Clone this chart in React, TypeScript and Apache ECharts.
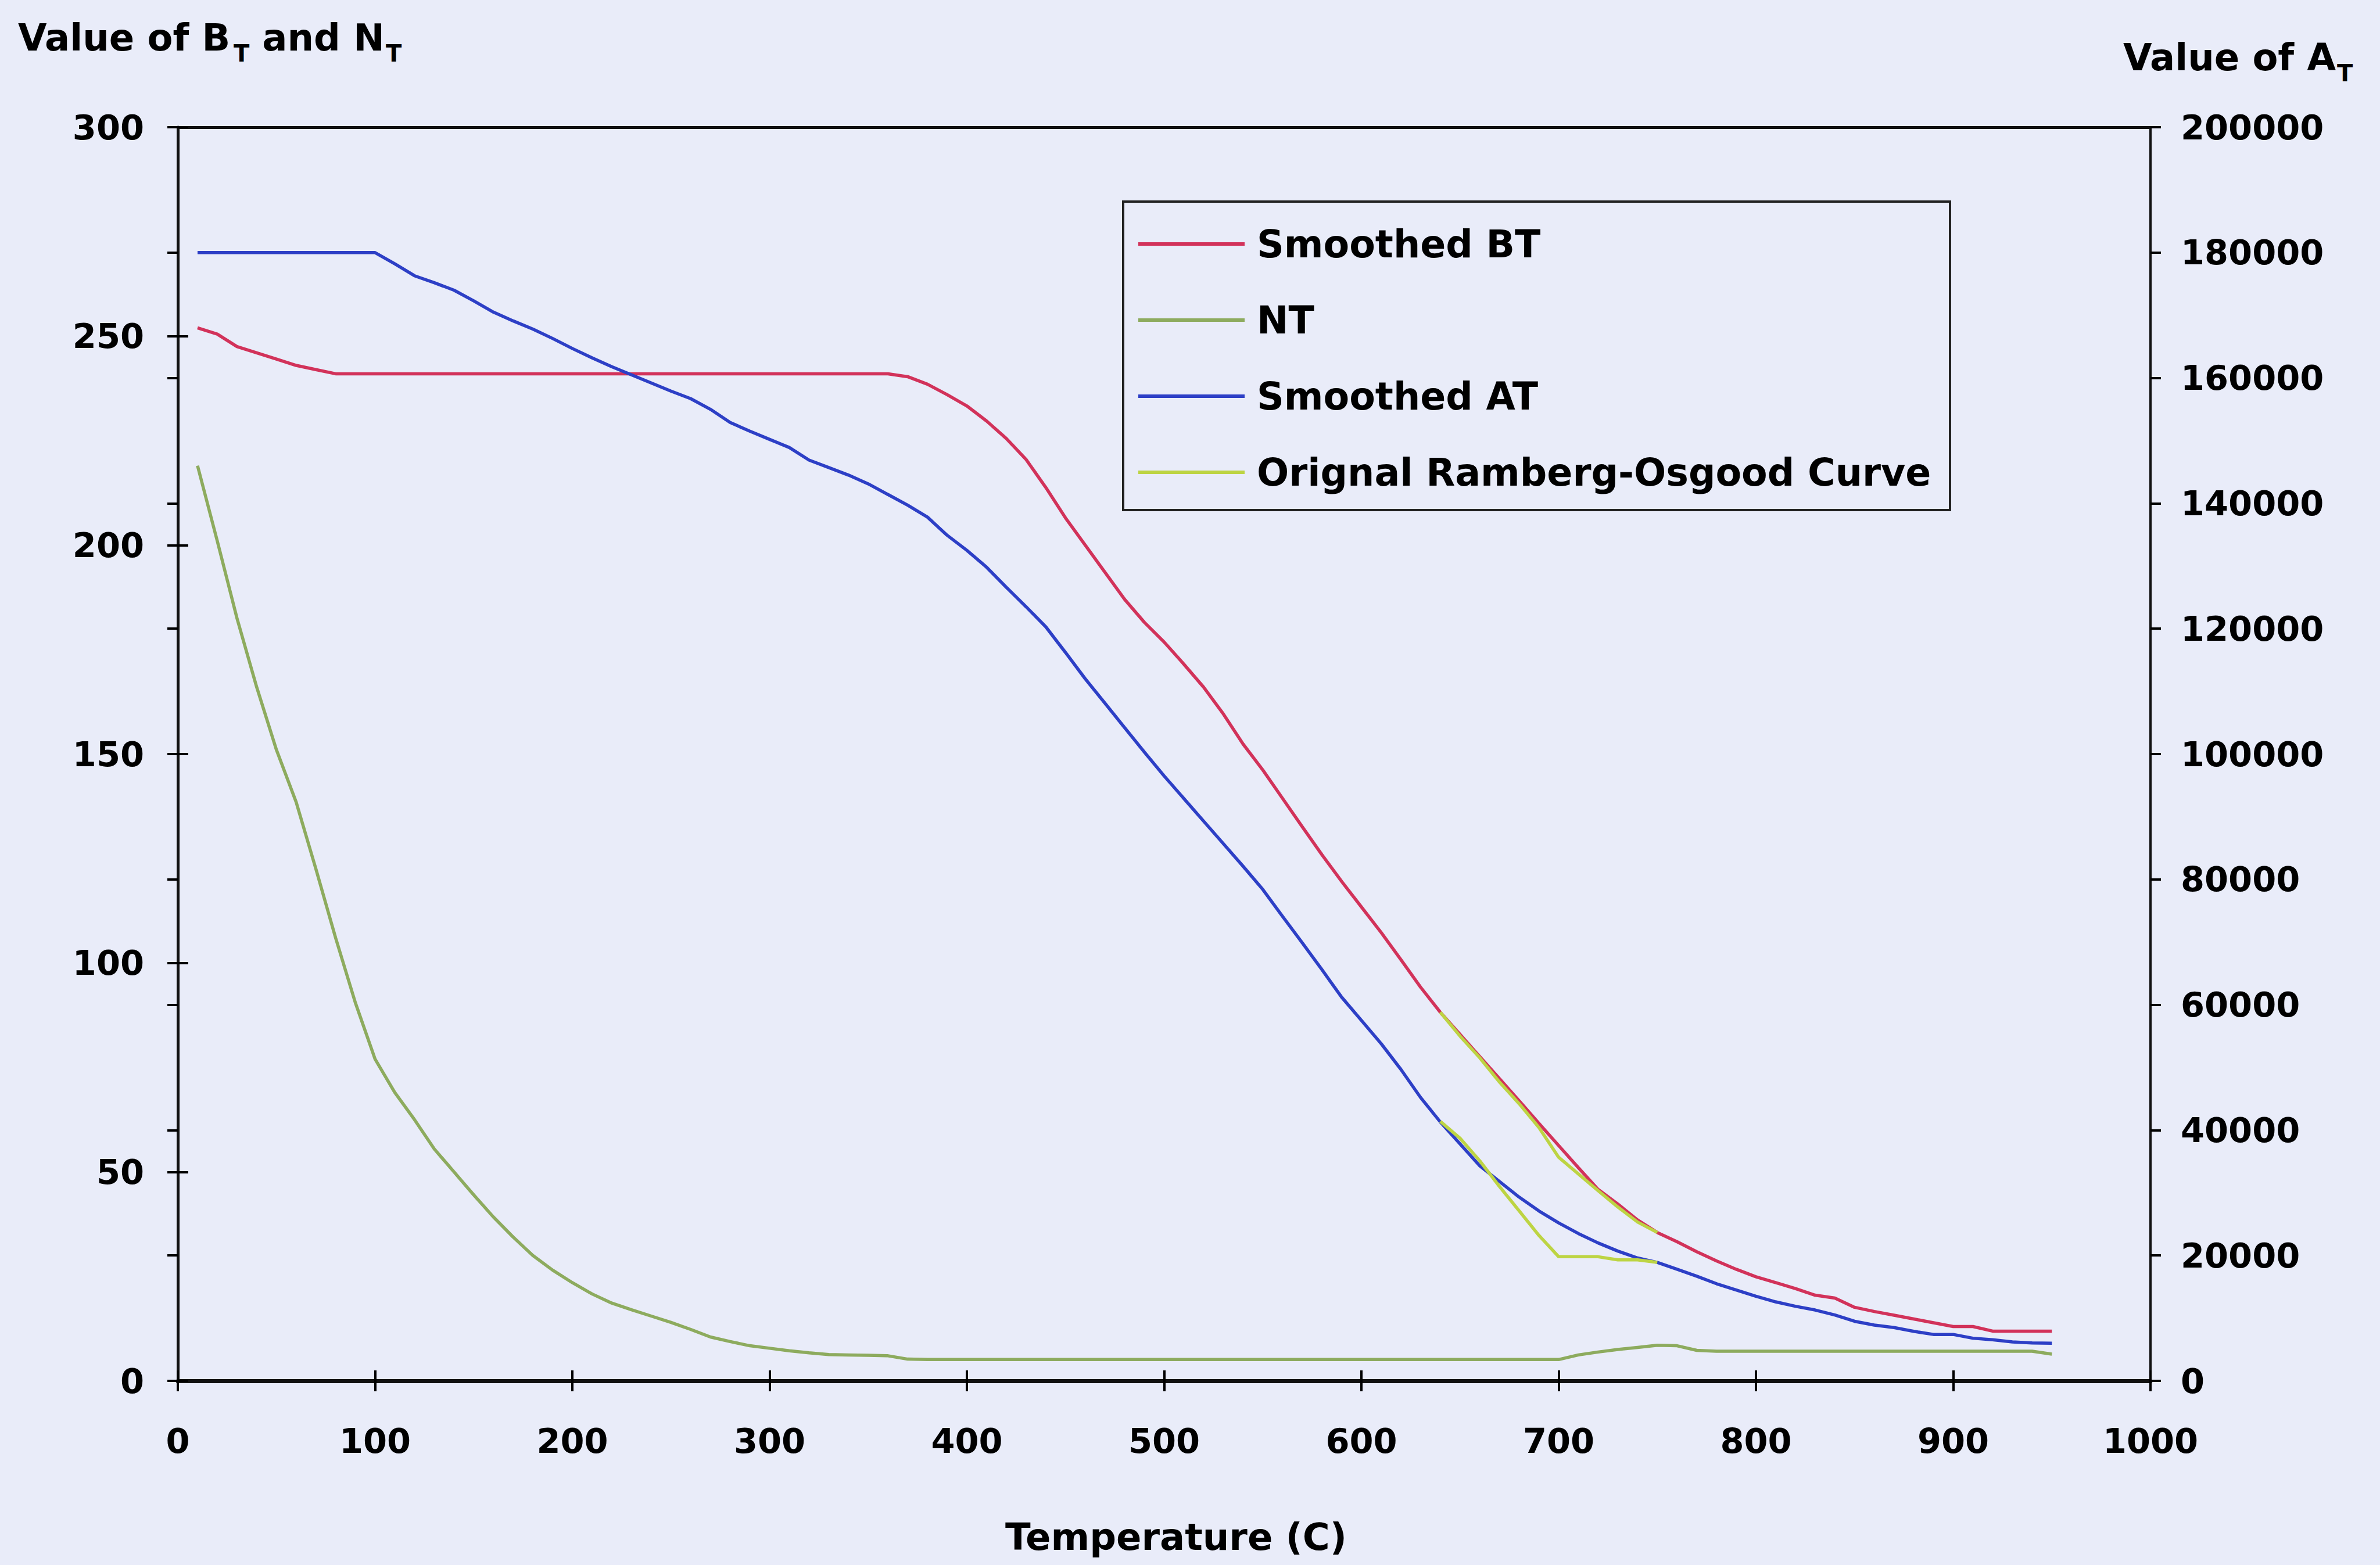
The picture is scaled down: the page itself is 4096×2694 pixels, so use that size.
import React, { useEffect, useRef } from "react";
import * as echarts from "echarts";

const temps = [10, 20, 30, 40, 50, 60, 70, 80, 90, 100, 110, 120, 130, 140, 150, 160, 170, 180, 190, 200, 210, 220, 230, 240, 250, 260, 270, 280, 290, 300, 310, 320, 330, 340, 350, 360, 370, 380, 390, 400, 410, 420, 430, 440, 450, 460, 470, 480, 490, 500, 510, 520, 530, 540, 550, 560, 570, 580, 590, 600, 610, 620, 630, 640, 650, 660, 670, 680, 690, 700, 710, 720, 730, 740, 750, 760, 770, 780, 790, 800, 810, 820, 830, 840, 850, 860, 870, 880, 890, 900, 910, 920, 930, 940, 950];

const smoothedBT = [252, 250.5, 247.5, 246, 244.5, 243, 242, 241, 241,
  241, 241, 241, 241, 241, 241, 241, 241, 241, 241, 241, 241, 241, 241, 241, 241, 241, 241, 241, 241, 241, 241, 241, 241, 241, 241, 241,
  240.3, 238.5, 236, 233.3, 229.7, 225.5, 220.5, 213.8, 206.5, 200, 193.5, 187, 181.5, 176.8, 171.5, 166, 159.6, 152.4, 146.2, 139.4, 132.6, 125.9, 119.5, 113.4, 107.3, 100.8, 94.2, 88.2, 82.9, 77.6, 72.3, 67, 61.6, 56.3, 51, 45.8, 42.3, 38.5, 35.5, 33.3, 30.9, 28.7, 26.7, 24.9, 23.5, 22.1, 20.5, 19.8, 17.6, 16.6, 15.7, 14.8, 13.9, 13.0, 13.0, 11.9, 11.9, 11.9, 11.9];

const nt = [219, 201, 182.5, 166, 151, 138.5, 122.5, 106, 90.5, 77, 69, 62.5, 55.5, 50, 44.5, 39.2, 34.4, 30, 26.5, 23.5, 20.8, 18.6, 17, 15.5, 14, 12.3, 10.5, 9.4, 8.4, 7.8, 7.2, 6.7, 6.3, 6.2, 6.1, 6.0, 5.2,
  5.1, 5.1, 5.1, 5.1, 5.1, 5.1, 5.1, 5.1, 5.1, 5.1, 5.1, 5.1, 5.1, 5.1, 5.1, 5.1, 5.1, 5.1, 5.1, 5.1, 5.1, 5.1, 5.1, 5.1, 5.1, 5.1, 5.1, 5.1, 5.1, 5.1, 5.1, 5.1, 5.1,
  6.2, 6.9, 7.5, 8.0, 8.5, 8.4, 7.3,
  7.1, 7.1, 7.1, 7.1, 7.1, 7.1, 7.1, 7.1, 7.1, 7.1, 7.1, 7.1, 7.1, 7.1, 7.1, 7.1, 7.1, 6.4];

const smoothedAT = [180000, 180000, 180000, 180000, 180000, 180000, 180000, 180000, 180000, 180000,
  178200, 176300, 175200, 174000, 172300, 170500, 169100, 167800, 166300, 164700, 163200, 161800, 160500, 159200, 157900, 156700, 155000, 152900, 151500, 150200, 148900, 146900, 145700, 144500, 143100, 141400, 139700, 137800, 134900, 132500, 129800, 126600, 123500, 120300, 116200, 112000, 108100, 104200, 100300, 96500, 92900, 89300, 85700, 82100, 78400, 74100, 69900, 65600, 61200, 57500, 53800, 49700, 45200, 41300, 37800, 34300, 31800, 29300, 27100, 25200, 23500, 22000, 20700, 19600, 18900, 17800, 16700, 15500, 14500, 13500, 12600, 11900, 11300, 10500, 9500, 8900, 8500, 7900, 7400, 7400, 6800, 6550, 6200, 6050, 6000];

const roTemps = [640, 650, 660, 670, 680, 690, 700, 710, 720, 730, 740, 750];
const roOnBT = [88.2, 82.5, 77.3, 71.5, 66.3, 60.6, 53.5, 49.5, 45.5, 41.6, 38, 35.5];
const roOnAT = [41400, 38700, 35100, 31000, 27100, 23200, 19800, 19800, 19800, 19300, 19300, 18900];

const legendNames = ["Smoothed BT", "NT", "Smoothed AT", "Orignal Ramberg-Osgood Curve"];

const FONT = "DejaVu Sans";
const BG = "#e9ecf9";

function zip(xs: number[], ys: number[]) {
  return xs.map((x, i) => [x, ys[i]]);
}

function txt(text: string, x: number, y: number, size: number, align: string) {
  return {
    type: "text",
    x,
    y,
    style: {
      text,
      fontSize: size,
      fontWeight: "bold",
      fontFamily: FONT,
      fill: "#000",
      align,
      verticalAlign: "middle",
      textAlign: align,
      textVerticalAlign: "middle",
    },
  };
}

export default function App() {
  const ref = useRef<HTMLDivElement>(null);
  useEffect(() => {
    if (!ref.current) return;
    const chart = echarts.init(ref.current, null, { renderer: "svg" });
    const plain = (v: number) => String(v);
    const labelStyle = { fontSize: 59, fontWeight: "bold", fontFamily: FONT, color: "#000", formatter: plain };
    const tickStyle = { color: "#000", width: 4 };
    const LW = 5.5;
    const option: any = {
      animation: false,
      backgroundColor: BG,
      grid: { left: 306, right: 395, top: 219, bottom: 317, containLabel: false },
      legend: {
        data: legendNames,
        orient: "vertical",
        left: 1954,
        top: 380,
        icon: "rect",
        itemWidth: 183,
        itemHeight: 6,
        itemGap: 61,
        selectedMode: false,
        textStyle: { fontSize: 65, fontWeight: "bold", fontFamily: FONT, color: "#000", lineHeight: 70, padding: [0, 0, 0, 16] },
      },
      xAxis: [
        {
          type: "value", min: 0, max: 1000, interval: 100, position: "bottom",
          axisLine: { show: true, onZero: false, lineStyle: { color: "#111", width: 7 } },
          axisTick: { show: true, inside: false, length: 18, lineStyle: tickStyle },
          axisLabel: { ...labelStyle, margin: 74 },
          splitLine: { show: false },
        },
        {
          type: "value", min: 0, max: 1000, interval: 100, position: "bottom",
          axisLine: { show: false },
          axisTick: { show: true, inside: true, length: 18, lineStyle: tickStyle },
          axisLabel: { show: false },
          splitLine: { show: false },
        },
        {
          type: "value", min: 0, max: 1000, interval: 100, position: "top",
          axisLine: { show: true, onZero: false, lineStyle: { color: "#111", width: 5 } },
          axisTick: { show: false },
          axisLabel: { show: false },
          splitLine: { show: false },
        },
      ],
      yAxis: [
        {
          type: "value", min: 0, max: 300, interval: 50, position: "left",
          axisLine: { show: true, onZero: false, lineStyle: { color: "#111", width: 5 } },
          axisTick: { show: true, inside: false, length: 18, lineStyle: tickStyle },
          axisLabel: { ...labelStyle, margin: 58 },
          splitLine: { show: false },
        },
        {
          type: "value", min: 0, max: 200000, interval: 20000, position: "right",
          axisLine: { show: true, onZero: false, lineStyle: { color: "#111", width: 4 } },
          axisTick: { show: true, inside: false, length: 18, lineStyle: tickStyle },
          axisLabel: { ...labelStyle, margin: 52 },
          splitLine: { show: false },
        },
        {
          type: "value", min: 0, max: 300, interval: 50, position: "left",
          axisLine: { show: false },
          axisTick: { show: true, inside: true, length: 18, lineStyle: tickStyle },
          axisLabel: { show: false },
          splitLine: { show: false },
        },
        {
          type: "value", min: 0, max: 200000, interval: 20000, position: "right",
          axisLine: { show: false },
          axisTick: { show: true, inside: true, length: 18, lineStyle: tickStyle },
          axisLabel: { show: false },
          splitLine: { show: false },
        },
      ],
      graphic: [
        {
          type: "rect",
          shape: { x: 1933, y: 347, width: 1423, height: 531 },
          style: { fill: "none", stroke: "#222", lineWidth: 4 },
          z: 10,
        },
        txt("Temperature (C)", 2024, 2646, 64, "center"),
        txt("Value of B", 31, 65, 64, "left"),
        txt("T", 402, 92, 40, "left"),
        txt(" and N", 429, 65, 64, "left"),
        txt("T", 664, 92, 40, "left"),
        txt("Value of A", 4020, 99, 64, "right"),
        txt("T", 4022, 126, 40, "left"),
      ],
      series: [
        {
          name: "Smoothed BT", type: "line", xAxisIndex: 0, yAxisIndex: 0,
          data: zip(temps, smoothedBT), showSymbol: false, color: "#d2325a",
          lineStyle: { width: LW, color: "#d2325a" }, z: 3,
        },
        {
          name: "NT", type: "line", xAxisIndex: 0, yAxisIndex: 0,
          data: zip(temps, nt), showSymbol: false, color: "#8dab5e",
          lineStyle: { width: LW, color: "#8dab5e" }, z: 3,
        },
        {
          name: "Smoothed AT", type: "line", xAxisIndex: 0, yAxisIndex: 1,
          data: zip(temps, smoothedAT), showSymbol: false, color: "#2d3fc6",
          lineStyle: { width: LW, color: "#2d3fc6" }, z: 3,
        },
        {
          name: "Orignal Ramberg-Osgood Curve", type: "line", xAxisIndex: 0, yAxisIndex: 0,
          data: zip(roTemps, roOnBT), showSymbol: false, color: "#bdd443",
          lineStyle: { width: LW, color: "#bdd443" }, z: 4,
        },
        {
          name: "Orignal Ramberg-Osgood Curve", type: "line", xAxisIndex: 0, yAxisIndex: 1,
          data: zip(roTemps, roOnAT), showSymbol: false, color: "#bdd443",
          lineStyle: { width: LW, color: "#bdd443" }, z: 4,
        },
      ],
    };
    chart.setOption(option);
    return () => chart.dispose();
  }, []);
  return (
    <div
      ref={ref}
      style={{ position: "absolute", left: 0, top: 0, width: 4096, height: 2694, background: BG }}
    />
  );
}
